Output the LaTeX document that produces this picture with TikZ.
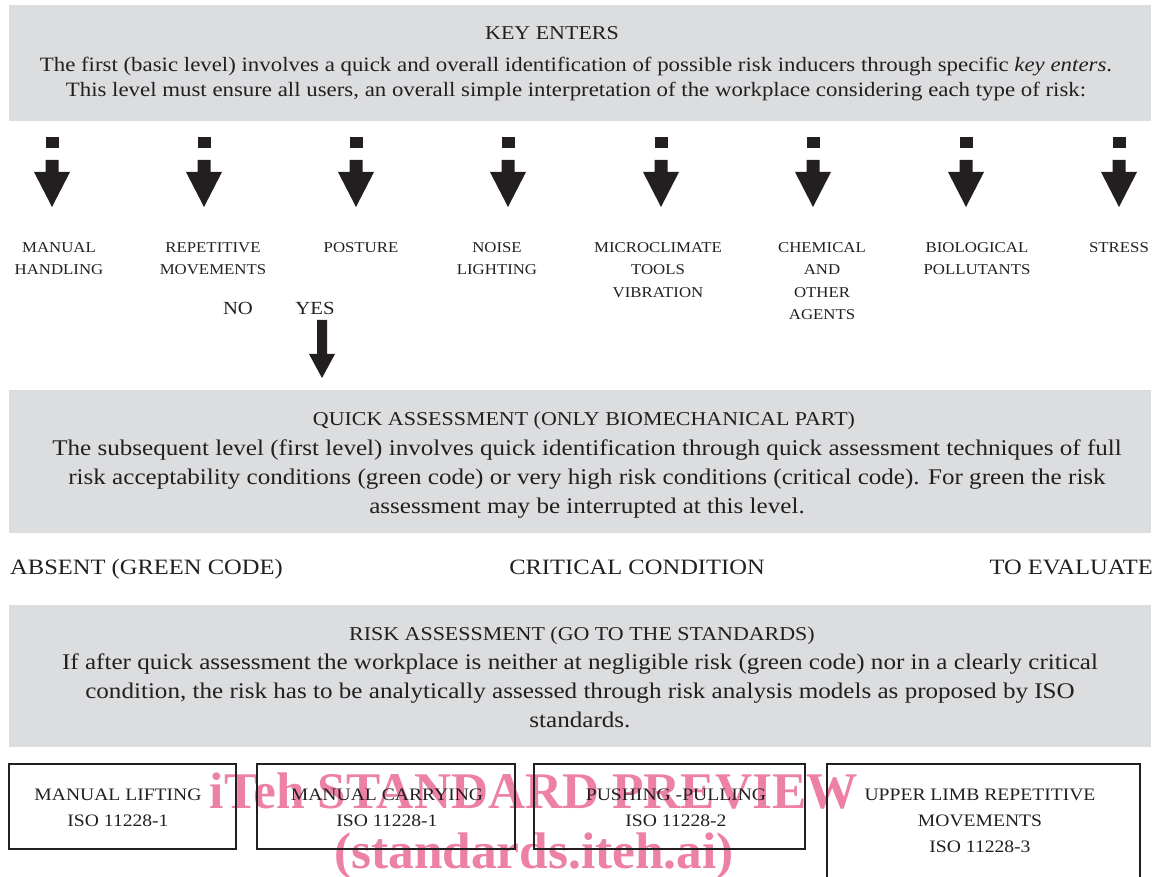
\documentclass[tikz,border=0pt]{standalone}
\usepackage{fontspec}
\setmainfont{Liberation Serif}[FakeStretch=1.12]
\newfontfamily\wmfont{Liberation Serif}
\definecolor{boxgray}{RGB}{220,221,223}
\definecolor{ink}{RGB}{35,31,32}
\definecolor{wmpink}{RGB}{236,128,165}
\tikzset{
  graybox/.style={fill=boxgray,draw=none},
  ttl/.style={anchor=base,inner sep=0pt,text=ink,font=\fontsize{19.6}{24}\selectfont},
  body/.style={anchor=base,inner sep=0pt,text=ink,font=\fontsize{22.4}{28.6}\selectfont,align=center},
  lbl/.style={anchor=base,inner sep=0pt,text=ink,font=\fontsize{15}{22.5}\selectfont,align=center},
  yn/.style={anchor=base,inner sep=0pt,text=ink,font=\fontsize{18.5}{24}\selectfont},
  outcome/.style={anchor=base,inner sep=0pt,text=ink,font=\fontsize{21.9}{26}\selectfont},
  stdbox/.style={draw=ink,line width=2.2pt,fill=none},
  stdtext/.style={anchor=base,inner sep=0pt,text=ink,font=\fontsize{17.5}{26}\selectfont,align=center},
  wmark/.style={anchor=base,inner sep=0pt,text=wmpink,font=\wmfont\fontsize{51.4}{60}\selectfont\bfseries},
  keyarrow/.pic={
    \fill[ink] (-6.5,137) rectangle (6.5,148);
    \fill[ink] (-6.5,160) -- (6.5,160) -- (6.5,172) -- (18,172) -- (0,207)
               -- (-18,172) -- (-6.5,172) -- cycle;
  }
}
\begin{document}
\begin{tikzpicture}[x=1pt,y=-1pt]
\useasboundingbox (0,0) rectangle (1160,877);

% ---- level 1 ----
\fill[graybox] (9,5) rectangle (1151,121);
\node[ttl] (t1) at (552,40) {KEY ENTERS};
\node[body,font=\fontsize{20.4}{25}\selectfont] (b1) at (576,97) {The first (basic level) involves a quick and overall identification of possible risk inducers through specific \textit{key enters}.\\This level must ensure all users, an overall simple interpretation of the workplace considering each type of risk:};

\foreach \x in {52,204,356,508,661,813,966,1119}
  \pic at (\x,0) {keyarrow};

\node[lbl] (k1) at (59,275) {MANUAL\\HANDLING};
\node[lbl] (k2) at (213,275) {REPETITIVE\\MOVEMENTS};
\node[lbl] (k3) at (361,252.5) {POSTURE};
\node[lbl] (k4) at (497,275) {NOISE\\LIGHTING};
\node[lbl] (k5) at (658,297.5) {MICROCLIMATE\\TOOLS\\VIBRATION};
\node[lbl] (k6) at (822,320) {CHEMICAL\\AND\\OTHER\\AGENTS};
\node[lbl] (k7) at (977,275) {BIOLOGICAL\\POLLUTANTS};
\node[lbl] (k8) at (1119,252.5) {STRESS};

\node[yn] (no) at (238,315) {NO};
\node[yn] (yes) at (315,315) {YES};
\coordinate (ya) at (322,320);
\fill[ink] (317,320) -- (327,320) -- (327,354) -- (335,354) -- (322,378)
           -- (309,354) -- (317,354) -- cycle;

% ---- level 2 ----
\fill[graybox] (9,390) rectangle (1151,533);
\node[ttl] (t2) at (584,425) {QUICK ASSESSMENT (ONLY BIOMECHANICAL PART)};
\node[body] (b2) at (587,513) {The subsequent level (first level) involves quick identification through quick assessment techniques of full\\risk acceptability conditions (green code) or very high risk conditions (critical code). For green the risk\\assessment may be interrupted at this level.};

\node[outcome,anchor=base west] (o1) at (10,574) {ABSENT (GREEN CODE)};
\node[outcome] (o2) at (637,574) {CRITICAL CONDITION};
\node[outcome,anchor=base east] (o3) at (1153,574) {TO EVALUATE};

% ---- level 3 ----
\fill[graybox] (9,605) rectangle (1151,747);
\node[ttl] (t3) at (582,640) {RISK ASSESSMENT (GO TO THE STANDARDS)};
\node[body] (b3) at (580,727) {If after quick assessment the workplace is neither at negligible risk (green code) nor in a clearly critical\\condition, the risk has to be analytically assessed through risk analysis models as proposed by ISO\\standards.};

% ---- watermark ----
\node[wmark] (w1) at (534,808) {iTeh STANDARD PREVIEW};
\node[wmark] (w2) at (534,868) {(standards.iteh.ai)};

% ---- standards ----
\draw[stdbox] (9,764) rectangle (236,849);
\draw[stdbox] (257,764) rectangle (515,849);
\draw[stdbox] (534,764) rectangle (805,849);
\draw[stdbox] (827,764) rectangle (1140,890);
\node[stdtext] (s1) at (118,826) {MANUAL LIFTING\\ISO 11228-1};
\node[stdtext] (s2) at (387,826) {MANUAL CARRYING\\ISO 11228-1};
\node[stdtext] (s3) at (676,826) {PUSHING -PULLING\\ISO 11228-2};
\node[stdtext] (s4) at (980,852) {UPPER LIMB REPETITIVE\\MOVEMENTS\\ISO 11228-3};
\end{tikzpicture}
\end{document}
